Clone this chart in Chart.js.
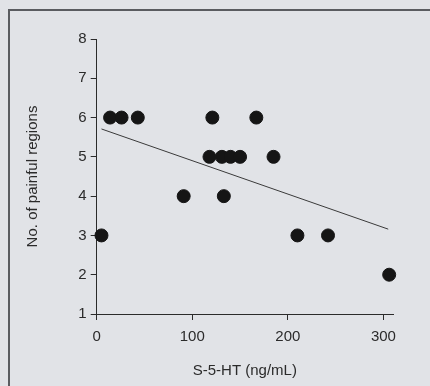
<!DOCTYPE html>
<html>
<head>
<meta charset="utf-8">
<script src="https://cdn.jsdelivr.net/npm/chart.js@4"></script>
<style>
  body { margin: 0; background: #e1e3e7; }
  #wrap { position: relative; width: 430px; height: 386px; overflow: hidden; }
  #frame { position: absolute; left: 8px; top: 9px; width: 440px; height: 400px; border: 2px solid #5a5c60; box-sizing: border-box; }
  canvas { position: absolute; left: 0; top: 0; }
</style>
</head>
<body>
<div id="wrap">
  <div id="frame"></div>
  <canvas id="myChart" width="430" height="386"></canvas>
</div>
<script>
const ctx = document.getElementById('myChart');

// S-5-HT (ng/mL) vs number of painful regions
const serotonin = [5, 14, 26, 43, 91, 121, 118, 131, 140, 150, 133, 167, 185, 210, 242, 306];
const painful = [3, 6, 6, 6, 4, 6, 5, 5, 5, 5, 4, 6, 5, 3, 3, 2];

// regression line end points
const fitX = [5, 305];
const fitY = [5.71, 3.16];

const xTicks = [0, 100, 200, 300];

const points = serotonin.map((v, i) => ({ x: v, y: painful[i] }));
const fit = fitX.map((v, i) => ({ x: v, y: fitY[i] }));

const ink = '#2b2b2b';
const font = { family: '"Liberation Sans", Arial, sans-serif', size: 15 };

const myChart = new Chart(ctx, {
    type: 'scatter',
    data: {
        datasets: [{
            label: 'fit',
            type: 'line',
            data: fit,
            borderColor: '#3a3a3a',
            borderWidth: 1,
            pointRadius: 0,
            fill: false
        }, {
            label: 'patients',
            data: points,
            backgroundColor: '#151515',
            borderColor: '#151515',
            pointRadius: 6.5,
            pointHoverRadius: 6.5,
            clip: false
        }]
    },
    options: {
        responsive: false,
        animation: false,
        layout: { padding: { left: 20, top: 39, right: 37, bottom: 0 } },
        plugins: { legend: { display: false }, tooltip: { enabled: false } },
        scales: {
            x: {
                type: 'linear',
                min: 0,
                max: 310,
                afterBuildTicks: (scale) => {
                    scale.ticks = xTicks.map(v => ({ value: v }));
                },
                afterFit: (scale) => { scale.height = 72; },
                grid: { drawOnChartArea: false, drawTicks: true, tickLength: 6, color: ink },
                border: { display: true, color: ink, width: 1 },
                ticks: { color: ink, font: font, padding: 8, maxRotation: 0 },
                title: { display: true, text: 'S-5-HT (ng/mL)', color: ink, font: font, padding: { top: 8, bottom: 6 } }
            },
            y: {
                min: 1,
                max: 8,
                afterFit: (scale) => { scale.width = 76.7; },
                grid: { drawOnChartArea: false, drawTicks: true, tickLength: 6, color: ink },
                border: { display: true, color: ink, width: 1 },
                ticks: { stepSize: 1, color: ink, font: font, padding: 4 },
                title: { display: true, text: 'No. of painful regions', color: ink, font: font, padding: { top: 4, bottom: 4 } }
            }
        }
    }
});
</script>
</body>
</html>
